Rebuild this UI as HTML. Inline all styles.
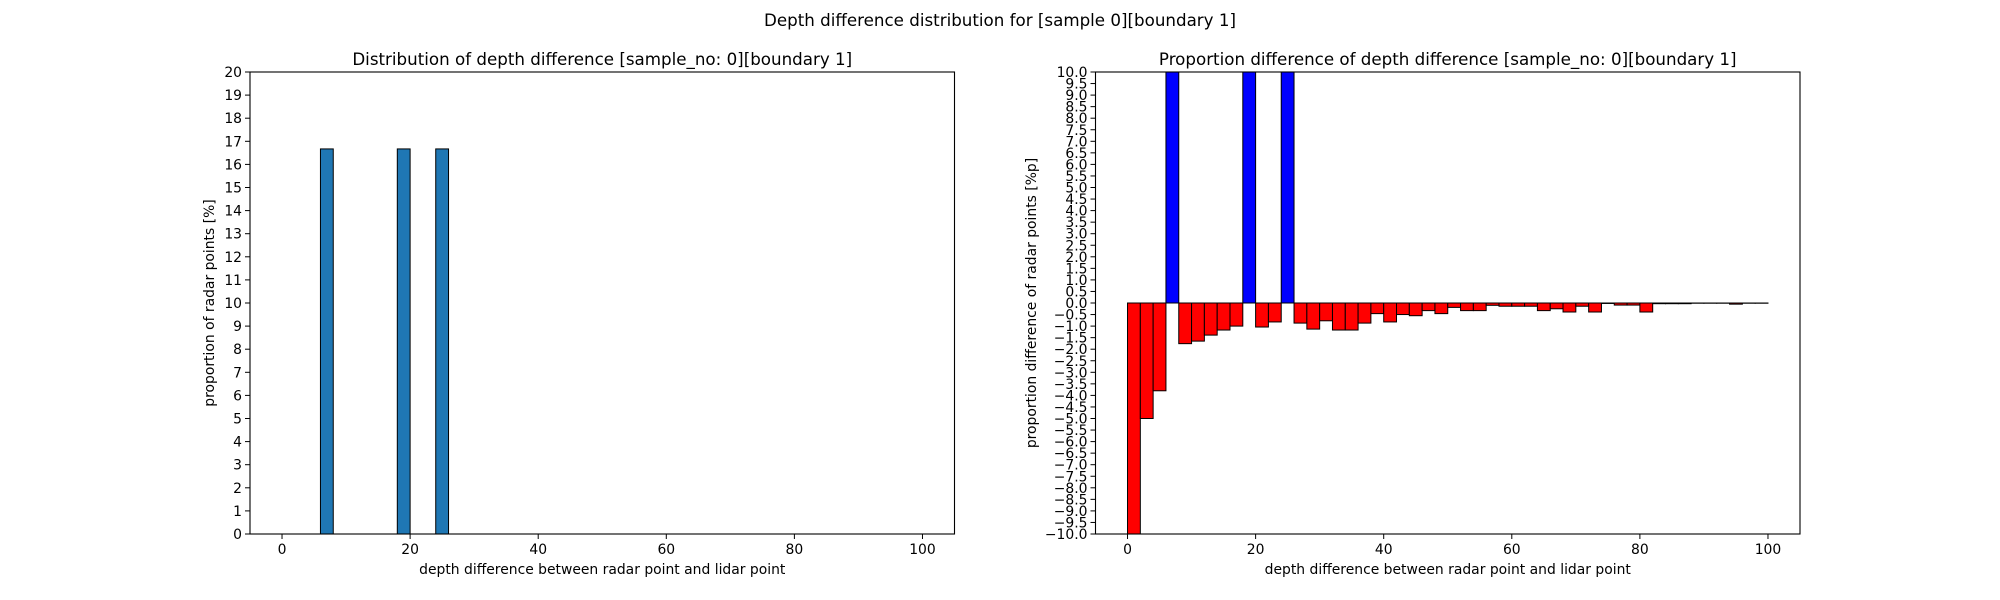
<!DOCTYPE html>
<html><head><meta charset="utf-8"><style>
html,body{margin:0;padding:0;background:#fff;}
svg{display:block;font-family:"DejaVu Sans","Liberation Sans",sans-serif;}
</style></head><body>
<svg id="fig" width="2000" height="600" viewBox="0 0 2000 600" xmlns="http://www.w3.org/2000/svg">
<rect width="2000" height="600" fill="#fff"/>
<text x="1000" y="26" text-anchor="middle" font-size="16.7">Depth difference distribution for [sample 0][boundary 1]</text>
<g id="left"></g>
<g id="right"></g>
</svg>
<script>
// data
const binEdgesStart = [0,2,4,6,8,10,12,14,16,18,20,22,24,26,28,30,32,34,36,38,40,42,44,46,48,50,52,54,56,58,60,62,64,66,68,70,72,74,76,78,80,82,84,86,88,90,92,94,96,98];
const leftValues = [0,0,0,16.67,0,0,0,0,0,16.67,0,0,16.67,0,0,0,0,0,0,0,0,0,0,0,0,0,0,0,0,0,0,0,0,0,0,0,0,0,0,0,0,0,0,0,0,0,0,0,0,0];
const rightValues = [-12,-5.0,-3.8,14,-1.76,-1.65,-1.39,-1.17,-1.0,14,-1.04,-0.82,14,-0.87,-1.13,-0.77,-1.17,-1.17,-0.87,-0.46,-0.82,-0.5,-0.55,-0.33,-0.46,-0.19,-0.33,-0.33,-0.1,-0.14,-0.14,-0.14,-0.33,-0.25,-0.39,-0.14,-0.39,-0.02,-0.09,-0.09,-0.39,-0.03,-0.03,-0.03,-0.01,-0.01,-0.01,-0.05,-0.01,-0.01];
const xTicks = [0,20,40,60,80,100];
const leftYTicks = [0,1,2,3,4,5,6,7,8,9,10,11,12,13,14,15,16,17,18,19,20];
const rightYTicks = [];
for (let v=-10; v<=10.001; v+=0.5) rightYTicks.push(Math.round(v*10)/10);
const binWidth = 2;

const NS="http://www.w3.org/2000/svg";
function mk(tag, attrs, parent){const e=document.createElementNS(NS,tag);for(const k in attrs)e.setAttribute(k,attrs[k]);parent.appendChild(e);return e;}

function drawAxes(g, box, ylim, yticks, yfmt, values, colorFn, title, ylabel, prefix){
  const xs=v=>box.x0+(v-(-5))/(110)*(box.x1-box.x0);
  const ys=v=>box.y1-(v-ylim[0])/(ylim[1]-ylim[0])*(box.y1-box.y0);
  const clip=mk('clipPath',{id:prefix+'clip'},g);
  mk('rect',{x:box.x0,y:box.y0,width:box.x1-box.x0,height:box.y1-box.y0},clip);
  const bars=mk('g',{'clip-path':'url(#'+prefix+'clip)'},g);
  
  
  const base=Math.max(0,ylim[0]);
  values.forEach((v,i)=>{
    const x0=xs(binEdgesStart[i]), x1=xs(binEdgesStart[i]+binWidth);
    const ya=ys(v), yb=ys(base);
    const r=mk('rect',{x:x0,y:Math.min(ya,yb),width:x1-x0,height:Math.abs(yb-ya),fill:colorFn(v),stroke:'#000','stroke-width':1},bars);
    
    
  });
  mk('rect',{x:box.x0,y:box.y0,width:box.x1-box.x0,height:box.y1-box.y0,fill:'none',stroke:'#000','stroke-width':1.1},g);
  xTicks.forEach(t=>{
    const x=xs(t);
    mk('line',{x1:x,x2:x,y1:box.y1,y2:box.y1+5,stroke:'#000'},g);
    const tx=mk('text',{x:x,y:box.y1+20,'text-anchor':'middle','font-size':13.9},g);
    tx.textContent=t;
    
    
  });
  yticks.forEach(t=>{
    const y=ys(t);
    mk('line',{x1:box.x0-5,x2:box.x0,y1:y,y2:y,stroke:'#000'},g);
    const tx=mk('text',{x:box.x0-8,y:y+5,'text-anchor':'end','font-size':13.9},g);
    tx.textContent=yfmt(t).replace('-','\u2212');
    
    
  });
  const tt=mk('text',{x:(box.x0+box.x1)/2,y:box.y0-7,'text-anchor':'middle','font-size':16.7},g);
  tt.textContent=title;
  
  
  const xl=mk('text',{x:(box.x0+box.x1)/2,y:box.y1+40,'text-anchor':'middle','font-size':13.9},g);
  xl.textContent='depth difference between radar point and lidar point';
  
  
  const yc=(box.y0+box.y1)/2;
  const yl=mk('text',{x:box.ylx,y:yc,'text-anchor':'middle','font-size':13.9,transform:'rotate(-90 '+box.ylx+' '+yc+')'},g);
  yl.textContent=ylabel;
  
  
}
drawAxes(document.getElementById('left'),{x0:250,x1:954.5,y0:72,y1:534,ylx:214},[0,20],leftYTicks,t=>String(t),leftValues,()=>'#1f77b4','Distribution of depth difference [sample_no: 0][boundary 1]','proportion of radar points [%]','left-');
drawAxes(document.getElementById('right'),{x0:1095.5,x1:1800,y0:72,y1:534,ylx:1036},[-10,10],rightYTicks,t=>t.toFixed(1),rightValues,v=>v>=0?'#0000ff':'#ff0000','Proportion difference of depth difference [sample_no: 0][boundary 1]','proportion difference of radar points [%p]','right-');
</script>
</body></html>
